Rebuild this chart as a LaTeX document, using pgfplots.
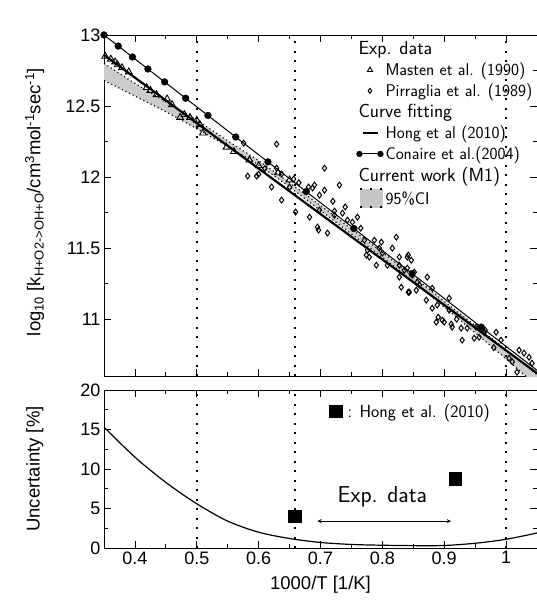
\documentclass[border=0pt]{standalone}
\usepackage{fontspec}
\setmainfont{Liberation Sans}
\usepackage{pgfplots}
\pgfplotsset{compat=1.18}
\newcommand{\hdr}[1]{\hspace{-27pt}{\fontsize{19}{21}\selectfont #1}}
\begin{document}
\begin{tikzpicture}
\pgfplotsset{
  every axis/.append style={
    scale only axis, width=433pt, xmin=0.35, xmax=1.05,
    xtick={0.4,0.5,0.6,0.7,0.8,0.9,1}, minor x tick num=1,
    major tick length=7pt, minor tick length=4pt,
    axis line style={line width=0.9pt},
    every tick/.append style={line width=0.8pt, black},
    tick label style={font=\fontsize{18}{21}\selectfont},
    label style={font=\fontsize{18.5}{21}\selectfont},
    /pgf/number format/assume math mode=true,
  },
  vdot/.style={black, line width=2pt, dash pattern=on 2pt off 7.5pt, forget plot},
  cidot/.style={black, line width=1.1pt, dash pattern=on 1.2pt off 2.8pt, forget plot},
}
% ---------------- top panel ----------------
\begin{axis}[
  at={(0pt,0pt)}, anchor=north west, height=341pt,
  ymin=10.6, ymax=13, ytick={11,11.5,12,12.5,13}, minor y tick num=1,
  xticklabels={},
  ylabel={log\textsubscript{10} [k\textsubscript{H+O2->OH+O}/cm\textsuperscript{3}mol\textsuperscript{-1}sec\textsuperscript{-1}]},
  ylabel style={at={(axis description cs:-0.16,0.51)}, anchor=center},
  legend style={draw=none, fill=none, at={(rel axis cs:0.58,0.99)}, anchor=north west,
    font=\fontsize{17}{19}\selectfont\sffamily, row sep=2.6pt, inner sep=1pt},
  legend cell align=left,
  clip=true,
]
% 95% CI band
\addplot[fill=gray!40, draw=none, forget plot] coordinates {
 (0.35,12.80) (0.40,12.66) (0.45,12.53) (0.50,12.40) (0.55,12.255) (0.60,12.115) (0.65,11.96)
 (0.70,11.80) (0.75,11.635) (0.80,11.47) (0.85,11.30) (0.90,11.125) (0.95,10.955) (1.00,10.785) (1.05,10.61)
 (1.05,10.53) (1.00,10.72) (0.95,10.905) (0.90,11.085) (0.85,11.265) (0.80,11.435) (0.75,11.60)
 (0.70,11.765) (0.65,11.93) (0.60,12.085) (0.55,12.215) (0.50,12.34) (0.45,12.46) (0.40,12.57) (0.35,12.68)
} -- cycle;
\addplot[cidot, smooth] coordinates {
 (0.35,12.80) (0.40,12.66) (0.45,12.53) (0.50,12.40) (0.55,12.255) (0.60,12.115) (0.65,11.96)
 (0.70,11.80) (0.75,11.635) (0.80,11.47) (0.85,11.30) (0.90,11.125) (0.95,10.955) (1.00,10.785) (1.05,10.61)};
\addplot[cidot, smooth] coordinates {
 (0.35,12.68) (0.40,12.57) (0.45,12.46) (0.50,12.34) (0.55,12.215) (0.60,12.085) (0.65,11.93)
 (0.70,11.765) (0.75,11.60) (0.80,11.435) (0.85,11.265) (0.90,11.085) (0.95,10.905) (1.00,10.72) (1.05,10.53)};
% Pirraglia et al. (1989)
\addplot[only marks, mark=diamond, mark size=2.9pt, mark options={line width=1pt, fill=white}, black, forget plot] coordinates {
 (0.5758,12.239) (0.6290,12.232) (0.5823,12.007) (0.5968,12.007) (0.6210,11.930) (0.6371,11.838)
 (0.6290,12.063) (0.6371,12.021) (0.6565,11.986) (0.7065,12.063) (0.6903,11.944) (0.6806,11.930)
 (0.6823,11.718) (0.7065,11.908) (0.6597,11.754) (0.6984,11.768) (0.6952,11.648) (0.7306,11.944)
 (0.6968,11.627) (0.7113,11.606) (0.7355,11.746) (0.7226,11.761) (0.7516,11.683) (0.7597,11.718)
 (0.7710,11.556) (0.7871,11.556) (0.7984,11.542) (0.8226,11.577) (0.8161,11.500) (0.8274,11.437)
 (0.8403,11.437) (0.8000,11.465) (0.7758,11.486) (0.7790,11.437) (0.7903,11.380) (0.8081,11.380)
 (0.8274,11.380) (0.8403,11.359) (0.8274,11.296) (0.8484,11.310) (0.8355,11.345) (0.7742,11.451)
 (0.8435,11.190) (0.8548,11.204) (0.8726,11.296) (0.8710,11.134) (0.8806,11.218) (0.8887,11.099)
 (0.8871,10.979) (0.8968,10.993) (0.9081,11.063) (0.9113,10.965) (0.9290,10.852) (0.9484,10.866)
 (0.9516,10.944) (0.9645,10.908) (0.9839,10.908) (0.9919,10.852) (1.0210,10.782) (1.0290,10.761)
 (1.0371,10.732) (1.0177,10.627) (1.0048,10.725) (0.8419,11.451) (0.8468,11.415) (0.8516,11.331)
 (0.8306,11.225) (0.8419,11.190) (0.8565,11.261) (0.8806,11.077) (0.8903,11.014) (0.9000,10.979)
 (0.9129,10.944) (0.9081,11.148) (0.9274,10.937) (0.9371,10.937) (0.9565,10.873) (0.9661,10.923)
 (1.0419,10.690) (0.7226,11.732) (0.7435,11.697) (0.6871,11.923) (0.6984,11.873)
 (0.6650,11.960) (0.7200,11.830) (0.7650,11.640) (0.7950,11.500) (0.8600,11.240) (0.9200,11.000)
 (0.9800,10.800) (1.0100,10.700) (0.6500,11.930) (0.7400,11.790) (0.6100,12.060) (0.6000,12.020)
};
% Masten et al. (1990)
\addplot[only marks, mark=triangle, mark size=3.9pt, mark options={line width=0.9pt, fill=white}, black, forget plot] coordinates {
 (0.352,12.85) (0.361,12.83) (0.368,12.81) (0.372,12.79) (0.379,12.77) (0.390,12.74) (0.419,12.63)
 (0.425,12.61) (0.435,12.58) (0.452,12.55) (0.460,12.51) (0.473,12.42) (0.480,12.44) (0.489,12.42)
 (0.500,12.40) (0.505,12.37) (0.510,12.31) (0.548,12.21) (0.560,12.18) (0.585,12.12) (0.600,12.08)
 (0.631,12.03) (0.650,11.98)
};
% Hong et al (2010)
\addplot[black, line width=2.2pt, forget plot] coordinates {(0.35,12.86) (1.05,10.62)};
% Conaire et al. (2004)
\addplot[black, line width=1pt, forget plot] coordinates {(0.35,13.0) (1.05,10.64)};
\addplot[only marks, mark=*, mark size=3.4pt, black, forget plot] coordinates {
 (0.350,13.000) (0.373,12.922) (0.396,12.845) (0.421,12.761) (0.448,12.670) (0.482,12.555)
 (0.518,12.434) (0.563,12.282) (0.615,12.107) (0.677,11.898) (0.754,11.638) (0.848,11.321) (0.960,10.944)
};
% temperature markers
\addplot[vdot] coordinates {(0.5,10.6) (0.5,13)};
\addplot[vdot] coordinates {(0.6587,10.6) (0.6587,13)};
\addplot[vdot] coordinates {(1.0,10.6) (1.0,13)};
\node[above, inner sep=2pt, font=\fontsize{18}{21}\selectfont] at (axis cs:0.5,13) {2000 K};
\node[above, inner sep=2pt, font=\fontsize{18}{21}\selectfont] at (axis cs:0.6667,13) {1500 K};
\node[above, inner sep=2pt, font=\fontsize{18}{21}\selectfont] at (axis cs:1.0,13) {1000 K};
% legend
\addlegendimage{empty legend}
\addlegendentry{\hdr{Exp. data}}
\addlegendimage{only marks, mark=triangle, mark size=3pt, mark options={line width=0.9pt}, black}
\addlegendentry{Masten et al. (1990)}
\addlegendimage{only marks, mark=diamond, mark size=2.4pt, mark options={line width=1pt}, black}
\addlegendentry{Pirraglia et al. (1989)}
\addlegendimage{empty legend}
\addlegendentry{\hdr{Curve fitting}}
\addlegendimage{black, line width=2.2pt, legend image code/.code={
   \draw[black, line width=2.2pt] (2pt,0pt) -- (17pt,0pt);}}
\addlegendentry{Hong et al (2010)}
\addlegendimage{black, legend image code/.code={
   \draw[black, line width=1pt] (-2pt,0pt) -- (19pt,0pt);
   \fill[black] (-2pt,0pt) circle (2.9pt); \fill[black] (19pt,0pt) circle (2.9pt);}}
\addlegendentry{Conaire et al.(2004)}
\addlegendimage{empty legend}
\addlegendentry{\hdr{Current work (M1)}}
\addlegendimage{legend image code/.code={
   \fill[gray!45] (-1pt,-9pt) rectangle (21pt,9pt);
   \draw[black, line width=1.8pt, dash pattern=on 1.8pt off 8.2pt] (-1pt,-9pt) -- (21pt,-9pt);
   \draw[black, line width=1.8pt, dash pattern=on 1.8pt off 8.2pt] (-1pt,9pt) -- (21pt,9pt);}}
\addlegendentry{\raisebox{0pt}[14pt][10pt]{95\%CI}}
\end{axis}
% ---------------- bottom panel ----------------
\begin{axis}[
  at={(0pt,-355pt)}, anchor=north west, height=158pt,
  ymin=0, ymax=20, ytick={0,5,10,15,20}, minor y tick num=1,
  xlabel={1000/T [1/K]},
  xlabel style={yshift=-5pt},
  ylabel={Uncertainty [\%]},
  ylabel style={at={(axis description cs:-0.16,0.5)}, anchor=center},
  legend style={draw=none, fill=none, at={(axis cs:0.712,17.3)}, anchor=west,
    font=\fontsize{17.5}{19}\selectfont\sffamily, inner sep=1pt},
  legend image code/.code={\draw[#1] plot coordinates {(0pt,0pt)};},
]
\addplot[black, line width=1.2pt, smooth, forget plot] coordinates {
 (0.35,15.3) (0.40,11.5) (0.45,8.3) (0.50,5.6) (0.55,3.4) (0.60,2.0) (0.65,1.2) (0.70,0.7)
 (0.75,0.45) (0.80,0.35) (0.85,0.3) (0.90,0.32) (0.95,0.6) (1.0,1.1) (1.05,1.9)
};
\addplot[only marks, mark=square*, mark size=6.3pt, black] coordinates {(0.658,4.05) (0.918,8.8)};
\addlegendentry{\hspace{4pt}: Hong et al. (2010)}
\addplot[<->, >=stealth, black, line width=0.9pt, forget plot] coordinates {(0.695,3.4) (0.911,3.4)};
\node[font=\fontsize{23}{26}\selectfont\sffamily] at (axis cs:0.80,6.5) {Exp. data};
\addplot[vdot] coordinates {(0.5,0) (0.5,20)};
\addplot[vdot] coordinates {(0.6587,0) (0.6587,20)};
\addplot[vdot] coordinates {(1.0,0) (1.0,20)};
\end{axis}
\pgfresetboundingbox
\path[use as bounding box] (-104pt,35pt) rectangle (433pt,-569pt);
\end{tikzpicture}
\end{document}
